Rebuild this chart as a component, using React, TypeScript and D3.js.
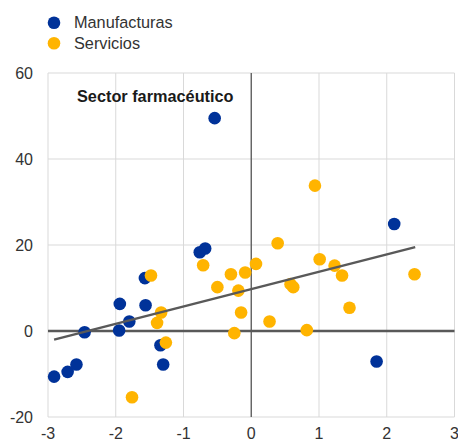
import React from "react";
import * as d3 from "d3";

const manufX = [-2.91, -2.71, -2.58, -2.46, -1.95, -1.94, -1.80, -1.57, -1.56, -1.34, -1.30, -0.76, -0.68, -0.54, 2.11, 1.85];
const manufY = [-10.6, -9.5, -7.8, -0.3, 0.1, 6.3, 2.2, 12.3, 6.0, -3.3, -7.8, 18.3, 19.2, 49.5, 24.9, -7.1];

const servX = [-1.48, -1.33, -1.39, -1.26, -1.76, -0.71, -0.50, -0.30, -0.09, 0.07, -0.19, -0.15, -0.25, 0.27, 0.39, 0.58, 0.62, 0.82, 1.01, 1.23, 1.34, 1.45, 2.41, 0.94];
const servY = [12.9, 4.3, 1.9, -2.7, -15.4, 15.3, 10.2, 13.2, 13.6, 15.6, 9.4, 4.3, -0.5, 2.2, 20.4, 10.9, 10.2, 0.2, 16.7, 15.2, 12.9, 5.4, 13.2, 33.8];

const trendX = [-2.91, 2.42];
const trendY = [-2.0, 19.5];

const xTicks = [-3, -2, -1, 0, 1, 2, 3];
const yTicks = [-20, 0, 20, 40, 60];

const seriesNames = ["Manufacturas", "Servicios"];
const seriesColors = ["#003299", "#FFB400"];
const title = "Sector farmacéutico";

export default function App() {
  const W = 458, H = 442;
  const x = d3.scaleLinear().domain([-3, 3]).range([48, 454.5]);
  const y = d3.scaleLinear().domain([-20, 60]).range([417, 73]);
  const font = "Arial, 'Liberation Sans', sans-serif";
  const line = d3.line<number>().x((_, i) => x(trendX[i])).y((_, i) => y(trendY[i]));

  return (
    <svg width={W} height={H} style={{ position: "absolute", left: 0, top: 0 }} fontFamily={font}>
      <rect width={W} height={H} fill="#fff" />
      {xTicks.map((t) => (
        <line key={"gx" + t} x1={x(t)} x2={x(t)} y1={y(60)} y2={y(-20)} stroke="#d9d9d9" strokeWidth={1} />
      ))}
      {yTicks.map((t) => (
        <line key={"gy" + t} x1={x(-3)} x2={x(3)} y1={y(t)} y2={y(t)} stroke="#d9d9d9" strokeWidth={1} />
      ))}
      <line x1={x(0)} x2={x(0)} y1={y(60)} y2={y(-20)} stroke="#595959" strokeWidth={1.3} />
      <line x1={x(-3)} x2={x(3)} y1={y(0)} y2={y(0)} stroke="#595959" strokeWidth={2.5} />
      {yTicks.map((t) => (
        <text key={"ly" + t} x={33} y={y(t) + 5.5} textAnchor="end" fontSize={16} fill="#333">{t}</text>
      ))}
      {xTicks.map((t) => (
        <text key={"lx" + t} x={x(t)} y={439} textAnchor="middle" fontSize={16} fill="#333">{t}</text>
      ))}
      {manufX.map((v, i) => (
        <circle key={"m" + i} cx={x(v)} cy={y(manufY[i])} r={6.3} fill={seriesColors[0]} />
      ))}
      {servX.map((v, i) => (
        <circle key={"s" + i} cx={x(v)} cy={y(servY[i])} r={6.3} fill={seriesColors[1]} />
      ))}
      <path d={line(trendX) || ""} fill="none" stroke="#595959" strokeWidth={2.5} />
      <text x={77} y={102} fontSize={16.3} fontWeight="bold" fill="#1a1a1a">{title}</text>
      {seriesNames.map((n, i) => (
        <g key={n}>
          <circle cx={54} cy={22.7 + i * 20.6} r={6.3} fill={seriesColors[i]} />
          <text x={74} y={28 + i * 20.6} fontSize={16.3} fill="#333">{n}</text>
        </g>
      ))}
    </svg>
  );
}
